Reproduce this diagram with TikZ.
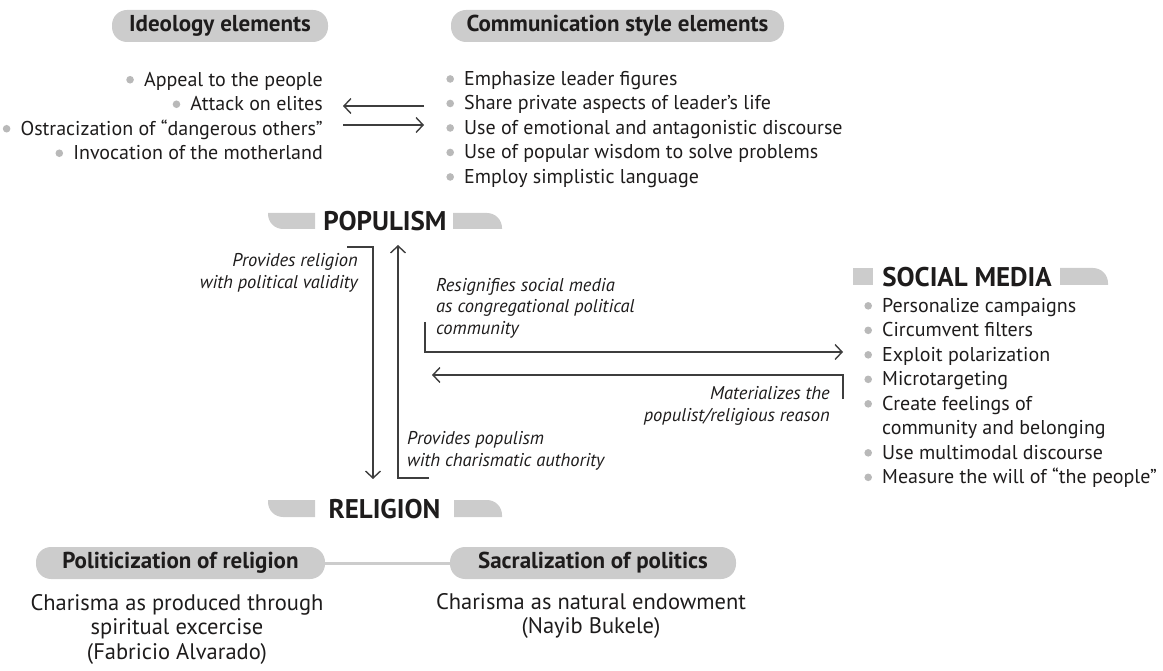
\documentclass[tikz,border=0pt]{standalone}
\usepackage{fontspec}
\setmainfont{PT Sans}
\usetikzlibrary{arrows.meta, calc, positioning}
\definecolor{pillgray}{RGB}{204,204,204}
\definecolor{dotgray}{RGB}{185,185,185}
\definecolor{linegray}{RGB}{62,62,62}
\definecolor{textblack}{RGB}{30,28,28}
\newcommand{\bul}{\hspace{2.2pt}\tikz[baseline={(0,-0.65ex)}]\fill[dotgray] (0,0) circle (3.8pt);\hspace{10.2pt}}
\newcommand{\nobul}{\hspace{20pt}}

\tikzset{
	pill/.style={fill=pillgray, rounded corners=15pt, minimum height=32pt, inner sep=0pt, text=textblack, font=\fontsize{23}{26}\selectfont\bfseries},
	items/.style={inner sep=0pt, text=textblack, font=\fontsize{20}{24.5}\selectfont},
	note/.style={inner sep=0pt, text=textblack, font=\fontsize{18.5}{21.5}\selectfont\itshape},
	heading/.style={inner sep=0pt, text=textblack, font=\fontsize{27}{30}\selectfont\bfseries},
	flow/.style={linegray, line width=1.4pt, -{Straight Barb[length=7pt,width=15pt]}},
}

\begin{document}
\begin{tikzpicture}[x=1pt, y=-1pt]
	\useasboundingbox (0,0) rectangle (1163,671);
	
	% top: ideology and communication style
	\node[pill, minimum width=216pt] (ideo) at (220,26) {Ideology elements};
	\node[pill, minimum width=333pt] (comm) at (617.5,26) {Communication style elements};
	
	\node[items, align=right, anchor=east] (ideolist) at (323,116) {\bul Appeal to the people\\ \bul Attack on elites\\ \bul Ostracization of “dangerous others”\\ \bul Invocation of the motherland};
	\node[items, align=left, anchor=west] (commlist) at (444,129.5) {\bul Emphasize leader figures\\ \bul Share private aspects of leader’s life\\ \bul Use of emotional and antagonistic discourse\\ \bul Use of popular wisdom to solve problems\\ \bul Employ simplistic language};
	
	\coordinate (c1) at (424,106);
	\coordinate (i1) at (343,106);
	\coordinate (i2) at (343,125);
	\coordinate (c2) at (424,125);
	\draw[flow] (c1) -- (i1);
	\draw[flow] (i2) -- (c2);
	
	% populism and religion
	\node[heading] (pop) at (385,221) {POPULISM};
	\fill[pillgray] (315,213) -- (268,213) [rounded corners=15pt] -- (268,229) [sharp corners] -- (315,229) -- cycle;
	\fill[pillgray] (453,229) -- (453,213) [rounded corners=15pt] -- (502,213) [sharp corners] -- (502,229) -- cycle;
	
	\node[heading] (rel) at (384.5,509) {RELIGION};
	\fill[pillgray] (315,500) -- (268,500) [rounded corners=15pt] -- (268,517) [sharp corners] -- (315,517) -- cycle;
	\fill[pillgray] (454,517) -- (454,500) [rounded corners=15pt] -- (502,500) [sharp corners] -- (502,517) -- cycle;
	
	\coordinate (p1) at (347,247);
	\coordinate (p2) at (373,247);
	\coordinate (r1) at (373,479);
	\coordinate (r2) at (429,478);
	\coordinate (r3) at (398,478);
	\coordinate (p3) at (398,245);
	\draw[flow] (p1) -- (p2) -- (r1);
	\draw[flow] (r2) -- (r3) -- (p3);
	
	\node[note, align=right, anchor=east] (valid) at (358,273) {Provides religion\\with political validity};
	\node[note, align=left, anchor=west] (charis) at (407,451) {Provides populism\\with charismatic authority};
	
	% social media
	\node[heading] (sm) at (967,277) {SOCIAL MEDIA};
	\fill[pillgray] (853,268) rectangle (873,285);
	\fill[pillgray] (1060,285) -- (1060,268) [rounded corners=15pt] -- (1108,268) [sharp corners] -- (1108,285) -- cycle;
	\node[items, align=left, anchor=west] (smlist) at (862,393) {\bul Personalize campaigns\\ \bul Circumvent filters\\ \bul Exploit polarization\\ \bul Microtargeting\\ \bul Create feelings of\\ \nobul community and belonging\\ \bul Use multimodal discourse\\ \bul Measure the will of “the people”};
	
	\coordinate (s1) at (425,322);
	\coordinate (s2) at (425,352);
	\coordinate (s3) at (843,352);
	\coordinate (m1) at (843,399);
	\coordinate (m2) at (843,375);
	\coordinate (m3) at (432,375);
	\draw[flow] (s1) -- (s2) -- (s3);
	\draw[flow] (m1) -- (m2) -- (m3);
	
	\node[note, align=left, anchor=west] (resig) at (436,308) {Resignifies social media\\as congregational political\\community};
	\node[note, align=right, anchor=east] (mater) at (830,406) {Materializes the\\populist/religious reason};
	
	% bottom: politicization and sacralization
	\node[pill, minimum width=289pt] (polit) at (180.5,563) {Politicization of religion};
	\node[pill, minimum width=286pt] (sacra) at (593,563) {Sacralization of politics};
	\draw[pillgray, line width=3pt] (polit) -- (sacra);
	
	\node[items, align=center, font=\fontsize{22.5}{24.5}\selectfont] (alvar) at (177,629) {Charisma as produced through\\spiritual excercise\\(Fabricio Alvarado)};
	\node[items, align=center, font=\fontsize{22.5}{24.5}\selectfont] (bukele) at (591,616) {Charisma as natural endowment\\(Nayib Bukele)};
\end{tikzpicture}
\end{document}
